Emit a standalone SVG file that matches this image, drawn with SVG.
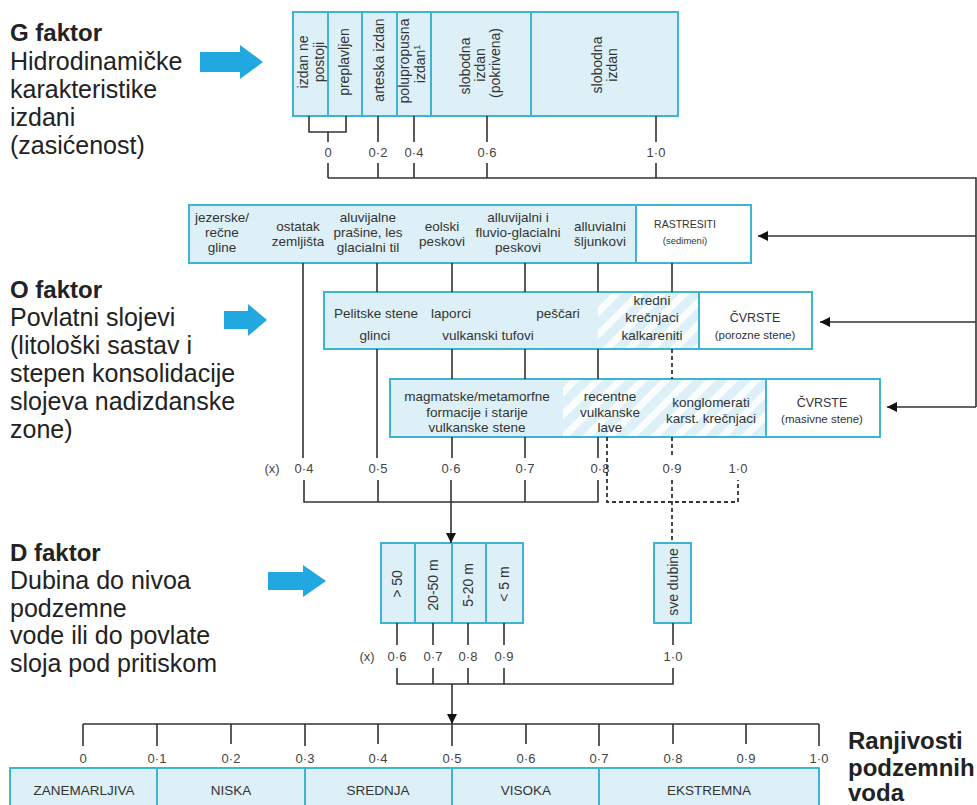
<svg xmlns="http://www.w3.org/2000/svg" width="977" height="805" viewBox="0 0 977 805">
<style>
.box{fill:#ddf0f8;stroke:#3db4d2;stroke-width:2}
.wbox{fill:#ffffff;stroke:#3db4d2;stroke-width:2}
.hat{fill:url(#hatch)}
.t{font-family:"Liberation Sans",Arial,sans-serif;font-size:13.5px;fill:#333;text-anchor:middle}
.tr{font-family:"Liberation Sans",Arial,sans-serif;font-size:14px;fill:#333;text-anchor:middle}
.cv{font-size:12.5px}
.sm{font-size:11.5px}
.xs{font-size:10.5px}
.xxs{font-size:9.5px}
.num{font-family:"Liberation Sans",Arial,sans-serif;font-size:13px;fill:#444;text-anchor:middle}
.lab{font-family:"Liberation Sans",Arial,sans-serif;font-size:25px;fill:#222}
.labb{font-family:"Liberation Sans",Arial,sans-serif;font-size:24px;font-weight:bold;fill:#222}
.ln{stroke:#333;stroke-width:1.6;fill:none}
.dl{stroke:#333;stroke-width:1.8;stroke-dasharray:4 3;fill:none}
.ba{fill:#22a8e0}
</style>
<defs>
<pattern id="hatch" width="16" height="16" patternUnits="userSpaceOnUse" patternTransform="rotate(45)">
<rect x="0" y="0" width="7" height="16" fill="#ffffff" opacity="0.85"/>
</pattern>
<marker id="ah" viewBox="0 0 10 10" refX="10" refY="5" markerWidth="13" markerHeight="10" markerUnits="userSpaceOnUse" orient="auto">
<path d="M0,0 L10,5 L0,10 z" fill="#111"/>
</marker>
</defs>

<g id="label-g">
<text class="labb" x="10" y="41">G faktor</text>
<text class="lab" x="10" y="70">Hidrodinamičke</text>
<text class="lab" x="10" y="98">karakteristike</text>
<text class="lab" x="10" y="126">izdani</text>
<text class="lab" x="10" y="154">(zasićenost)</text>
<path class="ba" d="M200,52 L240,52 L240,45 L263,62 L240,79 L240,72 L200,72 z"/>
</g>

<g id="label-o">
<text class="labb" x="10" y="298">O faktor</text>
<text class="lab" x="10" y="326">Povlatni slojevi</text>
<text class="lab" x="10" y="354">(litološki sastav i</text>
<text class="lab" x="10" y="382">stepen konsolidacije</text>
<text class="lab" x="10" y="410">slojeva nadizdanske</text>
<text class="lab" x="10" y="438">zone)</text>
<path class="ba" d="M224,311 L248,311 L248,304 L267,320 L248,336 L248,329 L224,329 z"/>
</g>

<g id="label-d">
<text class="labb" x="10" y="561">D faktor</text>
<text class="lab" x="10" y="589">Dubina do nivoa</text>
<text class="lab" x="10" y="617">podzemne</text>
<text class="lab" x="10" y="644">vode ili do povlate</text>
<text class="lab" x="10" y="672">sloja pod pritiskom</text>
<path class="ba" d="M268,572 L303,572 L303,565 L326,581 L303,597 L303,590 L268,590 z"/>
</g>

<g id="label-r">
<text class="labb" x="848" y="749">Ranjivosti</text>
<text class="labb" x="848" y="776">podzemnih</text>
<text class="labb" x="848" y="801">voda</text>
</g>

<g id="g-box">
<rect class="box" x="293" y="12" width="35" height="104"/>
<rect class="box" x="328" y="12" width="34" height="104"/>
<rect class="box" x="362" y="12" width="35" height="104"/>
<rect class="box" x="397" y="12" width="34" height="104"/>
<rect class="box" x="431" y="12" width="100" height="104"/>
<rect class="box" x="531" y="12" width="147" height="104"/>
<text class="tr" transform="translate(308,62) rotate(-90)">izdan ne</text>
<text class="tr" transform="translate(324,62) rotate(-90)">postoji</text>
<text class="tr" transform="translate(349,62) rotate(-90)">preplavljen</text>
<text class="tr" transform="translate(384,60) rotate(-90)">arteska izdan</text>
<text class="tr" transform="translate(409,61) rotate(-90)">polupropusna</text>
<text class="tr" transform="translate(425,64) rotate(-90)">izdan<tspan font-size="9" baseline-shift="super">1</tspan></text>
<text class="tr" transform="translate(470,66) rotate(-90)">slobodna</text>
<text class="tr" transform="translate(485,65) rotate(-90)">izdan</text>
<text class="tr" transform="translate(500,63) rotate(-90)">(pokrivena)</text>
<text class="tr" transform="translate(602,65) rotate(-90)">slobodna</text>
<text class="tr" transform="translate(617,65) rotate(-90)">izdan</text>
</g>

<g id="o-row1">
<rect class="box" x="189" y="205" width="447" height="58"/>
<rect class="wbox" x="636" y="205" width="115" height="58"/>
<text class="t" x="222" y="222">jezerske/</text>
<text class="t" x="222" y="237">rečne</text>
<text class="t" x="222" y="252">gline</text>
<text class="t" x="298" y="231">ostatak</text>
<text class="t" x="298" y="246">zemljišta</text>
<text class="t" x="368" y="222">aluvijalne</text>
<text class="t" x="368" y="237">prašine, les</text>
<text class="t" x="368" y="252">glacialni til</text>
<text class="t" x="442" y="231">eolski</text>
<text class="t" x="442" y="246">peskovi</text>
<text class="t" x="518" y="222">alluvijalni i</text>
<text class="t" x="518" y="237">fluvio-glacialni</text>
<text class="t" x="518" y="252">peskovi</text>
<text class="t" x="600" y="231">alluvialni</text>
<text class="t" x="600" y="246">šljunkovi</text>
<text class="t xs" x="685" y="228">RASTRESITI</text>
<text class="t xxs" x="685" y="244">(sedimeni)</text>
</g>

<g id="o-row2">
<rect class="box" x="324" y="292" width="375" height="57"/>
<rect class="hat" x="598" y="293" width="100" height="55"/>
<rect class="wbox" x="699" y="292" width="113" height="57"/>
<text class="t" x="376" y="318">Pelitske stene</text>
<text class="t" x="451" y="318">laporci</text>
<text class="t" x="558" y="318">peščari</text>
<text class="t" x="375" y="340">glinci</text>
<text class="t" x="488" y="340">vulkanski tufovi</text>
<text class="t" x="652" y="305">kredni</text>
<text class="t" x="652" y="322">krečnjaci</text>
<text class="t" x="652" y="340">kalkareniti</text>
<text class="t cv" x="755" y="322">ČVRSTE</text>
<text class="t sm" x="755" y="339">(porozne stene)</text>
</g>

<g id="o-row3">
<rect class="box" x="390" y="379" width="376" height="58"/>
<rect class="hat" x="563" y="380" width="202" height="56"/>
<rect class="wbox" x="766" y="379" width="114" height="58"/>
<text class="t" x="477" y="401">magmatske/metamorfne</text>
<text class="t" x="477" y="417">formacije i starije</text>
<text class="t" x="477" y="432">vulkanske stene</text>
<text class="t" x="610" y="401">recentne</text>
<text class="t" x="610" y="417">vulkanske</text>
<text class="t" x="610" y="432">lave</text>
<text class="t" x="711" y="407">konglomerati</text>
<text class="t" x="711" y="423">karst. krečnjaci</text>
<text class="t cv" x="822" y="407">ČVRSTE</text>
<text class="t sm" x="822" y="423">(masivne stene)</text>
</g>

<g id="d-box">
<rect class="box" x="381" y="543" width="34" height="80"/>
<rect class="box" x="415" y="543" width="37" height="80"/>
<rect class="box" x="452" y="543" width="34" height="80"/>
<rect class="box" x="486" y="543" width="37" height="80"/>
<text class="tr" transform="translate(402,584) rotate(-90)">&gt; 50</text>
<text class="tr" transform="translate(438,585) rotate(-90)">20-50 m</text>
<text class="tr" transform="translate(473,585) rotate(-90)">5-20 m</text>
<text class="tr" transform="translate(509,584) rotate(-90)">&lt; 5 m</text>
</g>

<g id="d-all">
<rect class="box" x="654" y="543" width="37" height="80"/>
<text class="tr" transform="translate(678,582) rotate(-90)">sve dubine</text>
</g>

<g id="scale">
<path class="ln" d="M83,724 H819 M83,724 V746 M157,724 V746 M231,724 V744 M305,724 V746 M378,724 V744 M452,724 V746 M526,724 V744 M599,724 V746 M673,724 V744 M746,724 V744 M819,724 V746"/>
<text class="num" x="83" y="763">0</text>
<text class="num" x="157" y="763">0·1</text>
<text class="num" x="231" y="763">0·2</text>
<text class="num" x="305" y="763">0·3</text>
<text class="num" x="378" y="763">0·4</text>
<text class="num" x="452" y="763">0·5</text>
<text class="num" x="526" y="763">0·6</text>
<text class="num" x="599" y="763">0·7</text>
<text class="num" x="673" y="763">0·8</text>
<text class="num" x="746" y="763">0·9</text>
<text class="num" x="819" y="763">1·0</text>
</g>

<g id="classes">
<rect class="box" x="10" y="768" width="147" height="50"/>
<rect class="box" x="157" y="768" width="148" height="50"/>
<rect class="box" x="305" y="768" width="147" height="50"/>
<rect class="box" x="452" y="768" width="147" height="50"/>
<rect class="box" x="599" y="768" width="220" height="50"/>
<text class="t" x="84" y="795">ZANEMARLJIVA</text>
<text class="t" x="231" y="795">NISKA</text>
<text class="t" x="378" y="795">SREDNJA</text>
<text class="t" x="526" y="795">VISOKA</text>
<text class="t" x="709" y="795">EKSTREMNA</text>
</g>

<g id="g-values">
<text class="num" x="328" y="157">0</text>
<text class="num" x="378" y="157">0·2</text>
<text class="num" x="414" y="157">0·4</text>
<text class="num" x="487" y="157">0·6</text>
<text class="num" x="656" y="157">1·0</text>
</g>

<g id="o-values">
<text class="num" x="272" y="473">(x)</text>
<text class="num" x="304" y="473">0·4</text>
<text class="num" x="378" y="473">0·5</text>
<text class="num" x="451" y="473">0·6</text>
<text class="num" x="525" y="473">0·7</text>
<text class="num" x="600" y="473">0·8</text>
<text class="num" x="672" y="473">0·9</text>
<text class="num" x="738" y="473">1·0</text>
</g>

<g id="d-values">
<text class="num" x="367" y="661">(x)</text>
<text class="num" x="397" y="661">0·6</text>
<text class="num" x="433" y="661">0·7</text>
<text class="num" x="468" y="661">0·8</text>
<text class="num" x="504" y="661">0·9</text>
<text class="num" x="673" y="661">1·0</text>
</g>

<g id="connectors">
<path class="ln" d="M309,116 V132 H346 V116 M328,132 V142 M378,116 V142 M414,116 V142 M487,116 V142 M656,116 V142"/>
<path class="ln" d="M328,163 V178 M378,163 V178 M414,163 V178 M487,163 V178 M656,163 V178 M328,178 H976 V407"/>
<line class="ln" x1="976" y1="236" x2="758" y2="236" marker-end="url(#ah)"/>
<line class="ln" x1="976" y1="322" x2="820" y2="322" marker-end="url(#ah)"/>
<line class="ln" x1="976" y1="407" x2="887" y2="407" marker-end="url(#ah)"/>
<path class="ln" d="M303,263 V458 M377,263 V292 M377,349 V458 M452,263 V292 M452,349 V379 M452,437 V458 M525,263 V292 M525,349 V379 M525,437 V458 M598,263 V292 M598,349 V379 M598,437 V458 M672,263 V292"/>
<path class="dl" d="M672,349 V379 M672,437 V458 M607,437 V502 H738 V480 M672,480 V543"/>
<path class="ln" d="M304,480 V502 H598 V480 M378,480 V502 M451,480 V502 M525,480 V502"/>
<line class="ln" x1="451" y1="502" x2="451" y2="543" marker-end="url(#ah)"/>
<path class="ln" d="M397,623 V645 M433,623 V645 M468,623 V645 M504,623 V645 M673,623 V645"/>
<path class="ln" d="M397,668 V684 H673 V668 M433,668 V684 M468,668 V684 M504,668 V684"/>
<line class="ln" x1="452" y1="684" x2="452" y2="724" marker-end="url(#ah)"/>
</g>
</svg>
